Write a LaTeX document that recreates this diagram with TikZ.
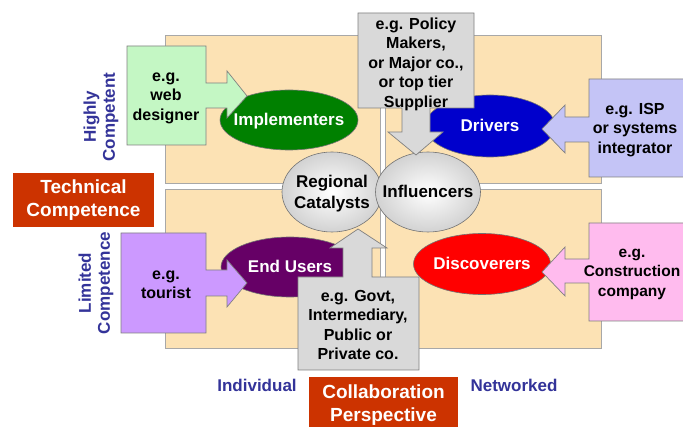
\documentclass[tikz,border=0pt]{standalone}
\usepackage{fontspec}
\setmainfont{Liberation Sans}
\usetikzlibrary{shapes.geometric}
\definecolor{peach}{HTML}{FCE2B4}
\definecolor{quadline}{HTML}{A8A8A8}
\definecolor{grayco}{HTML}{D9D9D9}
\definecolor{greenco}{HTML}{C4F7C4}
\definecolor{purpleco}{HTML}{CC99FF}
\definecolor{lavco}{HTML}{C4C4F6}
\definecolor{pinkco}{HTML}{FFBBEE}
\definecolor{redbox}{HTML}{CC3300}
\definecolor{navy}{HTML}{333399}
\definecolor{implgreen}{HTML}{008000}
\definecolor{drvblue}{HTML}{0000CC}
\definecolor{endpurple}{HTML}{660066}
\definecolor{discred}{HTML}{FF0000}
\definecolor{marble}{HTML}{D2D2D2}
\newcommand{\zw}[1]{\makebox[0pt]{\raisebox{-6pt}[0pt][0pt]{#1}}}
\newcommand{\zww}[2]{\makebox[0pt]{\raisebox{4.5pt}[0pt][0pt]{\begin{tabular}[t]{@{}c@{}}#1\\#2\end{tabular}}}}
\tikzset{
  quad/.style={fill=peach, draw=quadline, line width=0.8pt},
  ell/.style={ellipse, draw=black!55, line width=0.6pt, text=white, inner sep=0pt,
    font=\bfseries\fontsize{17}{20}\selectfont},
  marb/.style={ellipse, draw=black!55, line width=0.6pt, inner color=white, outer color=marble, inner sep=0pt,
    font=\bfseries\fontsize{17}{21}\selectfont},
  callout/.style={draw=black!50, line width=0.7pt},
  cotext/.style={align=center, inner sep=0pt, font=\bfseries\fontsize{16}{19.5}\selectfont},
  redlabel/.style={fill=redbox, text=white, inner sep=0pt, align=center,
    font=\bfseries\fontsize{19}{23}\selectfont},
  axislabel/.style={text=navy, align=center, inner sep=0pt,
    font=\bfseries\fontsize{17}{19}\selectfont}
}
\begin{document}
\begin{tikzpicture}[x=1pt,y=-1pt]
\path[use as bounding box] (0,0) rectangle (683,427);
\clip (0,0) rectangle (683,427);
\fill[white] (0,0) rectangle (683,427);

% quadrants
\draw[quad] (165,35) rectangle (380,183);
\draw[quad] (385,35) rectangle (601,183);
\draw[quad] (165,189) rectangle (380,348);
\draw[quad] (385,189) rectangle (601,348);

% ellipses
\node[ell, fill=implgreen, minimum width=138pt, minimum height=60pt] (impl) at (289,120) {\zw{Implementers}};
\node[ell, fill=drvblue, minimum width=130pt, minimum height=62pt] (drv) at (490,126) {\zw{Drivers}};
\node[ell, fill=endpurple, minimum width=138pt, minimum height=60pt] (endu) at (290,267) {\zw{End Users}};
\node[ell, fill=discred, minimum width=137pt, minimum height=61pt] (disc) at (482,264) {\zw{Discoverers}};

% marble circles
\node[marb, minimum width=100pt, minimum height=80pt] (regc) at (332,192) {\zww{Regional}{Catalysts}};
\node[marb, minimum width=105pt, minimum height=80pt] (infl) at (428,192) {\zw{Influencers}};

% web designer callout
\draw[callout, fill=greenco] (127,46) -- (206,46) -- (206,83) -- (227,83) -- (227,71) -- (247,96)
  -- (227,118) -- (227,108) -- (206,108) -- (206,145) -- (127,145) -- cycle;
\node[cotext] (webd) at (166,98) {e.g.\\web\\designer};

% tourist callout
\draw[callout, fill=purpleco] (121,233) -- (206,233) -- (206,270) -- (227,270) -- (227,260) -- (247,283)
  -- (227,307) -- (227,296) -- (206,296) -- (206,333) -- (121,333) -- cycle;
\node[cotext] (tour) at (166,285) {e.g.\\tourist};

% ISP callout
\draw[callout, fill=lavco] (695,79) -- (589,79) -- (589,117) -- (565,117) -- (565,105) -- (542,129)
  -- (565,153) -- (565,142) -- (589,142) -- (589,177) -- (695,177) -- cycle;
\node[cotext] (isp) at (635,130) {e.g. ISP\\or systems\\integrator};

% construction callout
\draw[callout, fill=pinkco] (695,223) -- (589,223) -- (589,259) -- (565,259) -- (565,247) -- (542,272)
  -- (565,296) -- (565,283) -- (589,283) -- (589,321) -- (695,321) -- cycle;
\node[cotext, font=\bfseries\fontsize{15.5}{19.5}\selectfont] (cons) at (632,274) {e.g.\\Construction\\company};

% top gray callout
\draw[callout, fill=grayco] (358,13) -- (474,13) -- (474,108) -- (430,108) -- (430,132) -- (443,132)
  -- (416,155) -- (388,132) -- (402,132) -- (402,108) -- (358,108) -- cycle;
\node[cotext] (pol) at (416,64) {e.g. Policy\\Makers,\\or Major co.,\\or top tier\\Supplier};

% bottom gray callout
\draw[callout, fill=grayco] (298,370) -- (419,370) -- (419,277) -- (372,277) -- (372,248) -- (387,248)
  -- (358,229) -- (330,248) -- (343,248) -- (343,277) -- (298,277) -- cycle;
\node[cotext] (gov) at (358,325) {e.g. Govt,\\Intermediary,\\Public or\\Private co.};

% axis labels
\node[axislabel, rotate=90] (hc) at (101,117) {Highly\\Competent};
\node[axislabel, rotate=90] (lc) at (96,283) {Limited\\Competence};
\node[axislabel] (ind) at (257,385) {Individual};
\node[axislabel] (net) at (514,385) {Networked};

% red labels
\node[redlabel, minimum width=141pt, minimum height=54pt] (tech) at (83.5,200) {Technical\\Competence};
\node[redlabel, minimum width=149pt, minimum height=56pt] (collab) at (383.5,405) {Collaboration\\Perspective};
\end{tikzpicture}
\end{document}
